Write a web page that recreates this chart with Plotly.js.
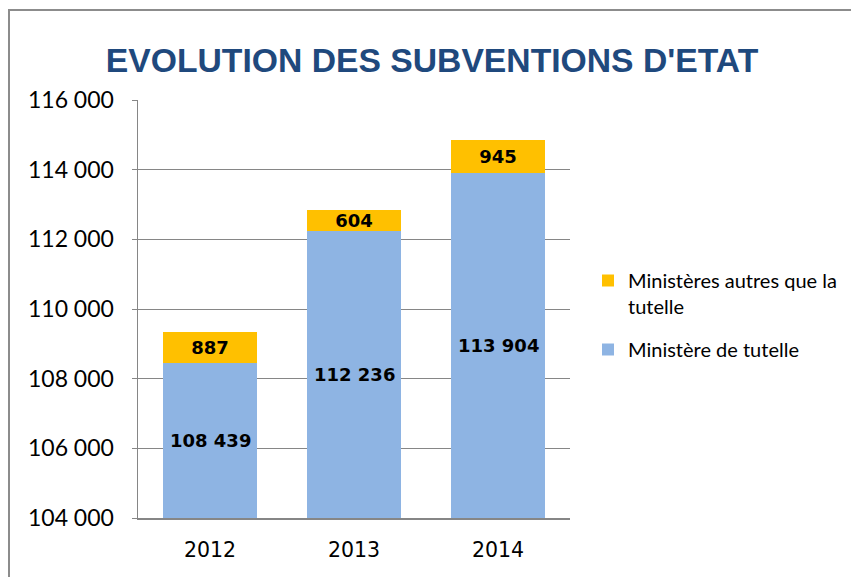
<!DOCTYPE html>
<html>
<head>
<meta charset="utf-8">
<script src="https://cdn.plot.ly/plotly-3.0.1.min.js"></script>
<style>
  html, body { margin: 0; padding: 0; background: #fff; }
  #wrap { position: relative; width: 851px; height: 577px; }
  #chart { width: 851px; height: 577px; }
  #frame { position: absolute; left: 8px; top: 9px; width: 900px; height: 700px;
           border-left: 2px solid #8c8c8c; border-top: 2px solid #8c8c8c; pointer-events: none; }
</style>
</head>
<body>
<div id="wrap">
  <div id="chart"></div>
  <div id="frame"></div>
</div>
<script>
const years = ['2012', '2013', '2014'];
const tutelle = [108439, 112236, 113904];
const autres = [887, 604, 945];
const seriesNames = ['Ministère de tutelle', 'Ministères autres que la<br>tutelle'];
const yTicks = [104000, 106000, 108000, 110000, 112000, 114000, 116000];
const yMin = 104000, yMax = 116000;

const labelFont = { family: 'DejaVu Sans', size: 18, color: '#000', weight: 'bold' };

const traces = [
  {
    type: 'bar', x: years, y: tutelle, name: seriesNames[0],
    marker: { color: '#8EB4E3' },
    hoverinfo: 'skip', legendgroup: 'a', legendrank: 2
  },
  {
    type: 'bar', x: years, y: autres, name: seriesNames[1],
    marker: { color: '#FFC000' },
    texttemplate: '%{y:,d}', textposition: 'inside', insidetextanchor: 'middle',
    textangle: 0, constraintext: 'none', textfont: labelFont,
    hoverinfo: 'skip', legendgroup: 'b', legendrank: 1
  }
];

const fmt = v => String(v).replace(/\B(?=(\d{3})+(?!\d))/g, ' ');

// labels of the blue segments, centred in the visible part of each bar
const annotations = years.map((yr, i) => ({
  x: i, y: (yMin + tutelle[i]) / 2, xref: 'x', yref: 'y',
  text: fmt(tutelle[i]), showarrow: false, font: labelFont,
  xanchor: 'center', yanchor: 'middle'
}));

const layout = {
  width: 851, height: 577,
  separators: ', ',
  barmode: 'stack',
  bargap: 0.35,
  paper_bgcolor: '#fff', plot_bgcolor: '#fff',
  margin: { l: 138, r: 281, t: 100, b: 59 },
  title: {
    text: "EVOLUTION DES SUBVENTIONS D'ETAT",
    font: { family: 'Liberation Sans', size: 33.7, color: '#1F497D', weight: 'bold' },
    x: 432 / 851, xanchor: 'center', xref: 'container',
    y: 1 - 60 / 577, yanchor: 'middle'
  },
  xaxis: {
    type: 'category', range: [-0.5, years.length - 0.5], autorange: false,
    showline: true, linecolor: '#868686', linewidth: 1.5,
    ticks: '', showgrid: false,
    tickfont: { family: 'DejaVu Sans', size: 20.5, color: '#000' },
    ticklabelstandoff: 13
  },
  yaxis: {
    range: [yMin, yMax],
    tickvals: yTicks, tickformat: ',d',
    showline: true, linecolor: '#868686', linewidth: 1.5,
    showgrid: true, gridcolor: '#868686', gridwidth: 1,
    ticks: 'outside', ticklen: 5, tickcolor: '#868686',
    tickfont: { family: 'Lato', size: 23, color: '#000' },
    ticklabelstandoff: 13,
    zeroline: false
  },
  legend: {
    x: 588 / 851, xref: 'container', xanchor: 'left',
    y: 1 - 261 / 577, yref: 'container', yanchor: 'top',
    traceorder: 'grouped', tracegroupgap: 14, valign: 'top',
    font: { family: 'Lato', size: 20, color: '#000' },
    itemwidth: 30
  },
  annotations: annotations,
  showlegend: true
};

Plotly.newPlot('chart', traces, layout, { displayModeBar: false, staticPlot: true });
</script>
</body>
</html>
